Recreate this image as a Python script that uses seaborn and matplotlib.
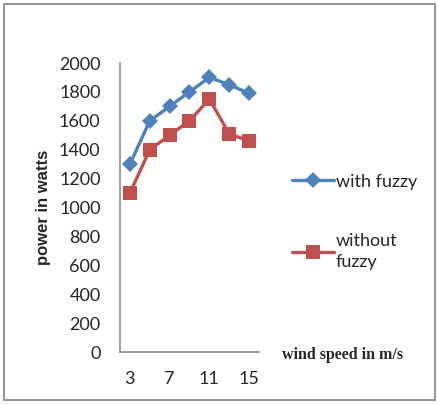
import matplotlib
matplotlib.use("Agg")
import matplotlib.pyplot as plt
import pandas as pd
import seaborn as sns
from matplotlib.patches import Rectangle

wind_speed = [3, 5, 7, 9, 11, 13, 15]
with_fuzzy = [1300, 1600, 1700, 1800, 1900, 1850, 1790]
without_fuzzy = [1100, 1400, 1500, 1600, 1750, 1510, 1460]
series_names = ["with fuzzy", "without\nfuzzy"]
y_ticks = list(range(0, 2001, 200))
x_ticks = [3, 7, 11, 15]

df = pd.DataFrame({
    "wind": wind_speed * 2,
    "power": with_fuzzy + without_fuzzy,
    "series": [series_names[0]] * len(wind_speed) + [series_names[1]] * len(wind_speed),
})

sns.set_style("white")
plt.rcParams["font.family"] = ["Lato", "DejaVu Sans"]

fig = plt.figure(figsize=(4.39, 4.04), dpi=100)
ax = fig.add_axes([0.2733, 0.1287, 0.3167, 0.7153])

sns.lineplot(data=df, x="wind", y="power", hue="series", style="series",
             palette=["#4F81BD", "#C0504D"], markers=["D", "s"], dashes=False,
             linewidth=2.4, markeredgewidth=0, ax=ax, legend=False)
for line, ms in zip(ax.lines, [8, 10.5]):
    line.set_markersize(ms)

ax.set_xlim(2, 16)
ax.set_ylim(0, 2000)
ax.set_xticks(x_ticks)
ax.set_yticks(y_ticks)
ax.tick_params(axis="both", length=0, labelsize=13)
ax.tick_params(axis="x", pad=14)
ax.tick_params(axis="y", pad=14)
for side in ["top", "right"]:
    ax.spines[side].set_visible(False)
for side in ["left", "bottom"]:
    ax.spines[side].set_color("#8c8c8c")
    ax.spines[side].set_linewidth(1.2)

ax.set_xlabel("")
ax.set_ylabel("power in watts", fontsize=12, fontweight="bold",
              family=["Liberation Sans", "DejaVu Sans"], labelpad=6)
fig.text(0.642, 0.121, "wind speed in m/s", fontsize=11.5, fontweight="bold",
         family=["Liberation Serif", "DejaVu Serif"], ha="left", va="center")

handles = ax.lines[:2]
leg = fig.legend(handles, series_names, loc="upper left", bbox_to_anchor=(0.629, 0.61),
                 frameon=False, fontsize=13, labelspacing=2.4, handlelength=2.3,
                 handletextpad=0.1)
for txt in leg.get_texts():
    txt.set_linespacing(1.4)

fig.patches.append(Rectangle((0.01, 0.01), 0.98, 0.98, transform=fig.transFigure,
                             fill=False, edgecolor="#999999", linewidth=1.5))

fig.savefig("out.png", dpi=100)
